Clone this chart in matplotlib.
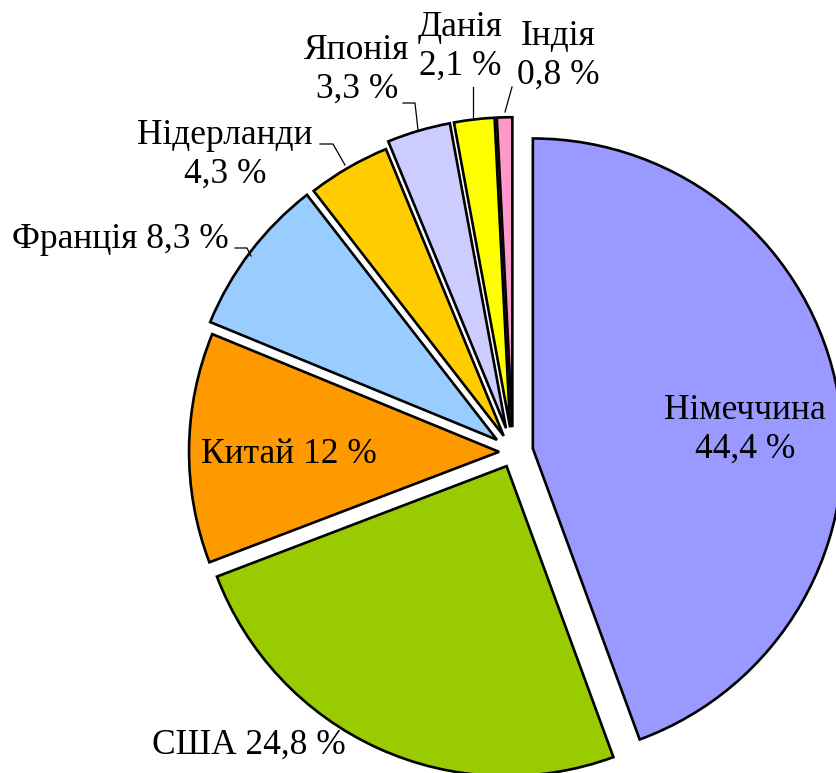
import matplotlib.pyplot as plt

plt.rcParams['font.family'] = ['Liberation Serif', 'DejaVu Serif']

countries = ["Німеччина", "США", "Китай", "Франція", "Нідерланди", "Японія", "Данія", "Індія"]
shares = [44.4, 24.8, 12.0, 8.3, 4.3, 3.3, 2.1, 0.8]
share_text = ["44,4 %", "24,8 %", "12 %", "8,3 %", "4,3 %", "3,3 %", "2,1 %", "0,8 %"]
colors = ["#9999FF", "#99CC00", "#FF9900", "#99CCFF", "#FFCC00", "#CCCCFF", "#FFFF00", "#FF99CC"]
explode = [0.065, 0.05, 0.045, 0.065, 0.06, 0.08, 0.08, 0.08]

W, H = 837, 773
R_PX = 310.0          # pie radius in pixels
CX, CY = 513.0, 452.0  # pie centre in pixels


def px(x, y):
    # pixel position -> data position
    return (x - CX) / R_PX, (CY - y) / R_PX


fig = plt.figure(figsize=(W / 100, H / 100), dpi=100)
ax = fig.add_axes([0, 0, 1, 1])

ax.pie(shares, colors=colors, explode=explode, startangle=90, counterclock=False,
       radius=1.0, wedgeprops=dict(edgecolor="black", linewidth=1.9))

ax.set_xlim(px(0, 0)[0], px(W, 0)[0])
ax.set_ylim(px(0, H)[1], px(0, 0)[1])
ax.set_aspect("auto")
ax.axis("off")

# label layout (pixel centres), text built from the data lists
label_pos = [(745, 430), (249, 745), (289, 455), (120, 240),
             (225, 155), (357, 70), (460, 47), (558, 56)]
one_line = [False, True, True, True, False, False, False, False]
fs = 25.5
for name, st, (lx, ly), single in zip(countries, share_text, label_pos, one_line):
    txt = f"{name} {st}" if single else f"{name}\n{st}"
    x, y = px(lx, ly)
    ax.text(x, y, txt, ha="center", va="center", fontsize=fs, linespacing=1.2)

# leader lines
leaders = [
    [(235, 248), (247, 248), (251, 256)],
    [(320, 144), (333, 144), (345, 165)],
    [(403, 103), (415, 103), (418, 130)],
    [(473, 87), (473, 117)],
    [(512, 87), (505, 112)],
]
for pts in leaders:
    xs, ys = zip(*[px(a, b) for a, b in pts])
    ax.plot(xs, ys, color="black", linewidth=0.9)

fig.savefig("out.png", dpi=100)
